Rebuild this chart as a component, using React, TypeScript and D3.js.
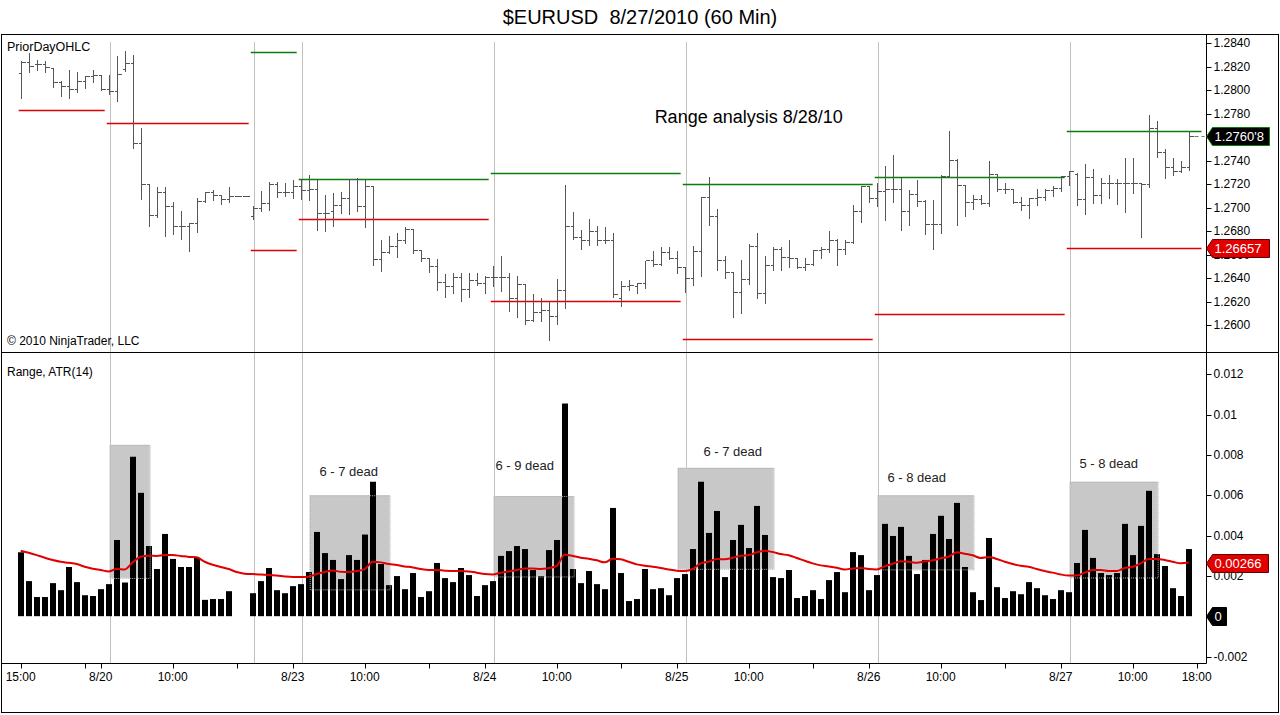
import React from "react";
import * as d3 from "d3";

// hourly EURUSD bars, 8/19 15:00 .. 8/27 17:00
const opens = [
  1.2815, 1.2824, 1.2822, 1.2822, 1.2819, 1.2807, 1.2804, 1.2801, 1.2808, 1.2812,
  1.2813, 1.2801, 1.2799, 1.2818, 1.2823, 1.2755, 1.272, 1.2694, 1.2713, 1.2701,
  1.2684, 1.2684, 1.2687, 1.2706, 1.2713, 1.2711, 1.2707, 1.271, 1.271, 1.2693,
  1.27, 1.2704, 1.272, 1.2713, 1.2713, 1.2718, 1.2715, 1.2716, 1.2695, 1.2697,
  1.2702, 1.2708, 1.2724, 1.2701, 1.2718, 1.2656, 1.2662, 1.2667, 1.2672, 1.2682,
  1.2664, 1.2657, 1.265, 1.2637, 1.2633, 1.2641, 1.2631, 1.2638, 1.2636, 1.2641,
  1.2641, 1.2641, 1.2623, 1.2635, 1.2604, 1.2611, 1.2613, 1.2608, 1.263, 1.2684,
  1.2675, 1.2672, 1.268, 1.2672, 1.2672, 1.2623, 1.2633, 1.2633, 1.2636, 1.2655,
  1.2652, 1.2662, 1.2657, 1.2649, 1.264, 1.2663, 1.2709, 1.2693, 1.2655, 1.2645,
  1.2628, 1.2639, 1.2667, 1.2627, 1.2651, 1.2665, 1.2658, 1.2657, 1.2649, 1.2652,
  1.2664, 1.2665, 1.2672, 1.2665, 1.2671, 1.2697, 1.2718, 1.2708, 1.2714, 1.2716,
  1.2716, 1.2697, 1.2712, 1.2706, 1.2686, 1.2686, 1.2727, 1.2741, 1.2719, 1.2705,
  1.2707, 1.2704, 1.2729, 1.2716, 1.2716, 1.2705, 1.2702, 1.2708, 1.2709, 1.2715,
  1.2717, 1.2727, 1.2729, 1.2707, 1.2726, 1.2711, 1.2721, 1.2721, 1.2721, 1.2721,
  1.2721, 1.272, 1.2768, 1.2747, 1.2735, 1.2731, 1.2735,
];
const highs = [
  1.2826, 1.2833, 1.2827, 1.2826, 1.282, 1.2809, 1.2818, 1.2816, 1.2813, 1.2818,
  1.2814, 1.2814, 1.283, 1.2834, 1.2831, 1.2769, 1.272, 1.2718, 1.2718, 1.2706,
  1.2698, 1.2688, 1.2709, 1.2714, 1.2716, 1.2712, 1.2718, 1.271, 1.271, 1.2702,
  1.2715, 1.2723, 1.2723, 1.2722, 1.2724, 1.2724, 1.2729, 1.2724, 1.2712, 1.2713,
  1.2714, 1.2725, 1.2726, 1.2724, 1.2719, 1.2673, 1.2677, 1.2679, 1.2684, 1.2683,
  1.2665, 1.2658, 1.2657, 1.2644, 1.2645, 1.2645, 1.2645, 1.2645, 1.2643, 1.2651,
  1.266, 1.2645, 1.2643, 1.2635, 1.2627, 1.2624, 1.2621, 1.264, 1.272, 1.2697,
  1.2682, 1.2691, 1.2685, 1.2684, 1.2679, 1.2638, 1.2639, 1.2637, 1.2655, 1.2664,
  1.2667, 1.2667, 1.2664, 1.265, 1.2668, 1.271, 1.2727, 1.27, 1.266, 1.2646,
  1.2656, 1.267, 1.2679, 1.266, 1.2667, 1.2667, 1.2673, 1.2658, 1.2658, 1.2665,
  1.2667, 1.2681, 1.2674, 1.2673, 1.2703, 1.2719, 1.2719, 1.2722, 1.2736, 1.2746,
  1.2726, 1.2716, 1.2724, 1.2707, 1.2707, 1.2729, 1.2766, 1.2742, 1.2719, 1.2712,
  1.2712, 1.2741, 1.2729, 1.2722, 1.2717, 1.271, 1.2709, 1.2717, 1.2717, 1.2719,
  1.2728, 1.2732, 1.273, 1.2738, 1.2734, 1.2726, 1.2729, 1.2725, 1.2743, 1.2743,
  1.2721, 1.278, 1.2775, 1.2751, 1.2743, 1.2741, 1.2766,
];
const lows = [
  1.2794, 1.2816, 1.2818, 1.2816, 1.2804, 1.2796, 1.2794, 1.2799, 1.2803, 1.2808,
  1.2801, 1.2798, 1.2792, 1.2817, 1.2752, 1.2708, 1.2685, 1.2693, 1.2677, 1.2678,
  1.2674, 1.2664, 1.268, 1.2706, 1.2707, 1.2704, 1.2706, 1.271, 1.271, 1.2691,
  1.2698, 1.2699, 1.271, 1.2711, 1.2709, 1.2708, 1.2707, 1.2682, 1.2681, 1.2685,
  1.2696, 1.2695, 1.2698, 1.2684, 1.2652, 1.2647, 1.2662, 1.2659, 1.2671, 1.2662,
  1.2655, 1.2646, 1.2631, 1.2625, 1.2628, 1.2621, 1.2625, 1.2635, 1.2628, 1.2634,
  1.263, 1.2613, 1.2608, 1.2602, 1.2604, 1.2604, 1.2588, 1.2602, 1.2615, 1.2674,
  1.2666, 1.2669, 1.2669, 1.2671, 1.2625, 1.2617, 1.2631, 1.2628, 1.2632, 1.2651,
  1.2652, 1.2657, 1.2645, 1.2629, 1.2635, 1.2643, 1.2686, 1.2648, 1.2641, 1.2608,
  1.2611, 1.2636, 1.2624, 1.262, 1.2648, 1.2648, 1.265, 1.2649, 1.2648, 1.2652,
  1.2658, 1.2663, 1.2652, 1.2661, 1.2671, 1.2689, 1.2706, 1.2702, 1.269, 1.2706,
  1.2682, 1.2686, 1.2702, 1.2678, 1.2666, 1.2679, 1.2727, 1.2686, 1.2694, 1.27,
  1.2704, 1.2702, 1.2715, 1.2713, 1.2705, 1.2699, 1.2692, 1.2703, 1.2707, 1.2711,
  1.2715, 1.272, 1.2703, 1.2695, 1.2705, 1.2705, 1.2709, 1.2704, 1.2697, 1.2713,
  1.2676, 1.2718, 1.2744, 1.2726, 1.2729, 1.2731, 1.2733,
];
const closes = [
  1.2824, 1.2821, 1.2822, 1.282, 1.2807, 1.2804, 1.2801, 1.2808, 1.2812, 1.2813,
  1.2801, 1.2799, 1.2814, 1.2823, 1.2755, 1.272, 1.2694, 1.2713, 1.2701, 1.2684,
  1.2684, 1.2687, 1.2706, 1.2713, 1.2711, 1.2707, 1.271, 1.271, 1.271, 1.27,
  1.2704, 1.272, 1.2713, 1.2713, 1.2718, 1.2715, 1.2716, 1.2695, 1.2695, 1.2702,
  1.2708, 1.2724, 1.2701, 1.2718, 1.2656, 1.2662, 1.2667, 1.2672, 1.2682, 1.2664,
  1.2657, 1.265, 1.2637, 1.2633, 1.2641, 1.2631, 1.2638, 1.2636, 1.2641, 1.2641,
  1.2641, 1.2623, 1.2635, 1.2604, 1.2611, 1.2613, 1.2608, 1.263, 1.2684, 1.2675,
  1.2672, 1.268, 1.2672, 1.2672, 1.2626, 1.2633, 1.2634, 1.2636, 1.2655, 1.2652,
  1.2662, 1.2657, 1.2649, 1.264, 1.2663, 1.2709, 1.2693, 1.2655, 1.2645, 1.2628,
  1.2639, 1.2667, 1.2627, 1.2651, 1.2665, 1.2658, 1.2657, 1.2649, 1.2652, 1.2664,
  1.2665, 1.2672, 1.2665, 1.2671, 1.2697, 1.2718, 1.2708, 1.2714, 1.2716, 1.2716,
  1.2697, 1.2712, 1.2706, 1.2686, 1.2686, 1.2727, 1.2741, 1.2719, 1.2705, 1.2707,
  1.2704, 1.2729, 1.2716, 1.2716, 1.2705, 1.2702, 1.2708, 1.2709, 1.2715, 1.2717,
  1.2727, 1.2731, 1.2707, 1.2726, 1.2711, 1.2721, 1.2721, 1.2721, 1.2721, 1.2721,
  1.272, 1.2768, 1.2747, 1.2735, 1.2731, 1.2735, 1.27608,
];

// Range panel
const ranges = [
  0.00317, 0.00174, 0.00095, 0.00095, 0.00164, 0.00129, 0.00244, 0.00169, 0.00104, 0.001,
  0.00134, 0.00159, 0.00378, 0.00167, 0.00791, 0.00612, 0.00348, 0.00234, 0.00408, 0.00284,
  0.00244, 0.00244, 0.00289, 0.00081, 0.00085, 0.00085, 0.00124, 0, 0, 0.00114,
  0.00174, 0.00239, 0.00129, 0.00114, 0.00149, 0.00159, 0.00219, 0.00418, 0.00313, 0.00279,
  0.00184, 0.00303, 0.00279, 0.00405, 0.00667, 0.00259, 0.00154, 0.00199, 0.00134, 0.00214,
  0.00095, 0.00124, 0.00264, 0.00189, 0.00169, 0.00239, 0.00204, 0.001, 0.00154, 0.00174,
  0.00299, 0.00323, 0.00348, 0.00333, 0.00229, 0.00199, 0.00328, 0.00378, 0.01055, 0.00234,
  0.00164, 0.00224, 0.00159, 0.00134, 0.00537, 0.00214, 0.00075, 0.00085, 0.00234, 0.00134,
  0.00139, 0.00104, 0.00189, 0.00209, 0.00333, 0.00667, 0.00413, 0.00522, 0.00194, 0.00378,
  0.00453, 0.00338, 0.00547, 0.00403, 0.00194, 0.00189, 0.00229, 0.0009, 0.001, 0.00129,
  0.00085, 0.00179, 0.00219, 0.00119, 0.00318, 0.00303, 0.00129, 0.00204, 0.00458, 0.00398,
  0.00443, 0.00299, 0.00209, 0.00279, 0.00408, 0.00498, 0.00383, 0.00562, 0.00244, 0.00119,
  0.0008, 0.00388, 0.00144, 0.0009, 0.00124, 0.00109, 0.00169, 0.00139, 0.00104, 0.00085,
  0.00129, 0.00119, 0.00264, 0.00428, 0.00289, 0.00214, 0.00204, 0.00214, 0.00458, 0.00303,
  0.00448, 0.00622, 0.00308, 0.00249, 0.00139, 0.001, 0.00333,
];
const atr = [
  0.00325, 0.00315, 0.00303, 0.0029, 0.00279, 0.0027, 0.00265, 0.00259, 0.00245, 0.00235,
  0.00229, 0.00222, 0.00234, 0.00232, 0.00267, 0.00295, 0.003, 0.00299, 0.00303, 0.00303,
  0.00299, 0.00294, 0.00292, 0.0027, 0.00255, 0.00244, 0.00234, 0.00219, 0.00211, 0.00209,
  0.00207, 0.00204, 0.00202, 0.00197, 0.00194, 0.00194, 0.00196, 0.00209, 0.00219, 0.00227,
  0.0022, 0.00219, 0.00224, 0.00234, 0.0027, 0.00267, 0.00259, 0.00254, 0.00247, 0.00242,
  0.00234, 0.00229, 0.00229, 0.00226, 0.00224, 0.00224, 0.00222, 0.00216, 0.00209, 0.00207,
  0.00216, 0.00222, 0.00229, 0.00237, 0.00237, 0.00234, 0.00239, 0.0025, 0.00305, 0.00299,
  0.0029, 0.00285, 0.00277, 0.00267, 0.00285, 0.00282, 0.0027, 0.00257, 0.0025, 0.00245,
  0.00239, 0.00232, 0.00226, 0.00224, 0.00234, 0.00262, 0.0027, 0.00284, 0.00282, 0.0029,
  0.003, 0.00303, 0.00317, 0.00325, 0.00318, 0.00308, 0.00302, 0.00289, 0.00275, 0.00262,
  0.00252, 0.00247, 0.0024, 0.00232, 0.00237, 0.00239, 0.00234, 0.00232, 0.00247, 0.0026,
  0.00272, 0.0027, 0.00265, 0.00272, 0.00277, 0.00287, 0.00295, 0.00317, 0.0031, 0.00302,
  0.00289, 0.00294, 0.00284, 0.0027, 0.00259, 0.0025, 0.00245, 0.00234, 0.00224, 0.00216,
  0.00207, 0.00202, 0.00202, 0.00216, 0.00229, 0.00229, 0.00224, 0.00224, 0.00239, 0.00245,
  0.00262, 0.00284, 0.00284, 0.00279, 0.0027, 0.00262, 0.00266,
];

// PriorDayOHLC per session (bar index where each session starts)
const sessionStarts = [0, 11, 29, 35, 59, 83, 107, 131];
const priorHighs = [null, null, 1.28328, 1.27241, 1.27292, 1.27201, 1.27265, 1.27655];
const priorLows = [1.27831, 1.27718, 1.26639, 1.269, 1.26207, 1.25877, 1.2609, 1.26657];
const sessionLines = [11, 29, 35, 59, 83, 107, 131];

// x axis
const xTickIdx = [0, 8, 10, 19, 27, 34, 43, 51, 58, 67, 75, 82, 91, 99, 106, 115, 123, 130, 139, 147];
const xTickLabels = [
  "15:00", "", "8/20", "10:00", "", "8/23", "10:00", "", "8/24", "10:00", "",
  "8/25", "10:00", "", "8/26", "10:00", "", "8/27", "10:00", "18:00",
];
const priceTicks = [1.26, 1.262, 1.264, 1.266, 1.268, 1.27, 1.272, 1.274, 1.276, 1.278, 1.28, 1.282, 1.284];
const rangeTicks = [-0.002, 0, 0.002, 0.004, 0.006, 0.008, 0.01, 0.012];

// shaded "dead" zones on the range panel
const boxFrom = [11, 36, 59, 82, 107, 131];
const boxTo = [16, 46, 69, 94, 119, 142];
const boxTop = [0.0085, 0.006, 0.00596, 0.00736, 0.006, 0.00667];
const boxBottom = [0.0019, 0.00133, 0.00197, 0.00235, 0.00232, 0.00192];
const noteText = ["6 - 7 dead", "6 - 9 dead", "6 - 7 dead", "6 - 8 dead", "5 - 8 dead"];
const noteIdx = [41, 63, 89, 112, 136];
const noteVal = [0.0072, 0.0075, 0.00815, 0.00686, 0.00755];

const FONT = "Arial, 'Liberation Sans', sans-serif";
const axisX = 1206.5;
const GREEN = "#0c7c0c";
const RED = "#dd0000";

const Tag = ({ y, w, fill, stroke, text }) => (
  <g>
    <polygon
      points={`${axisX},${y} ${axisX + 6},${y - 9} ${axisX + w},${y - 9} ${axisX + w},${y + 9} ${axisX + 6},${y + 9}`}
      fill={fill}
      stroke={stroke}
    />
    <text x={axisX + 8} y={y} dominantBaseline="central" fill="#fff" fontSize={13} fontFamily={FONT}>
      {text}
    </text>
  </g>
);

const App: React.FC = () => {
  const n = closes.length;
  const x = d3.scaleLinear().domain([0, n - 1]).range([20.7, 20.7 + 8 * (n - 1)]);
  const yP = d3.scaleLinear().domain([1.26, 1.284]).range([325, 43.3]);
  const yR = d3.scaleLinear().domain([-0.002, 0.012]).range([656.5, 374.3]);
  const px = (i: number) => Math.round(x(i)) + 0.5;
  const py = (v: number) => Math.round(yP(v)) + 0.5;

  const atrLine = d3
    .line<number>()
    .x((d, i) => x(i))
    .y((d) => yR(d))
    .curve(d3.curveMonotoneX);

  const lastIdx = n - 1;
  // labels sitting under a value tag are hidden, as in the original
  const hiddenPrice = [1.276];

  return (
    <div style={{ position: "absolute", left: 0, top: 0, background: "#fff" }}>
      <svg width={1280} height={715} style={{ display: "block" }}>
        <rect x={0} y={0} width={1280} height={715} fill="#fff" />
        <text
          x={640}
          y={17}
          textAnchor="middle"
          dominantBaseline="central"
          fontSize={20}
          fontFamily={FONT}
          style={{ whiteSpace: "pre" }}
        >
          {"$EURUSD  8/27/2010 (60 Min)"}
        </text>

        {/* session gridlines */}
        {sessionLines.map((i) => (
          <line key={"g" + i} x1={px(i) + 1} x2={px(i) + 1} y1={42} y2={663} stroke="#c0c0c0" />
        ))}

        {/* prior day high / low */}
        {sessionStarts.map((s, k) => {
          const x1 = x(s) - 2;
          const x2 = k < sessionStarts.length - 1 ? x(sessionStarts[k + 1]) - 4 : x(147.6);
          return (
            <g key={"pd" + k} strokeWidth={1.5}>
              {priorHighs[k] != null && (
                <line x1={x1} x2={x2} y1={py(priorHighs[k])} y2={py(priorHighs[k])} stroke={GREEN} />
              )}
              <line x1={x1} x2={x2} y1={py(priorLows[k])} y2={py(priorLows[k])} stroke={RED} />
            </g>
          );
        })}

        {/* OHLC bars */}
        {closes.map((c, i) => {
          const cx = px(i);
          return (
            <g key={"b" + i} stroke="#555" shapeRendering="crispEdges">
              {highs[i] > lows[i] && <line x1={cx} x2={cx} y1={py(highs[i])} y2={py(lows[i]) + 1} />}
              <line x1={cx - 3} x2={cx} y1={py(opens[i])} y2={py(opens[i])} />
              <line x1={cx} x2={cx + 4} y1={py(c)} y2={py(c)} />
            </g>
          );
        })}
        <line
          x1={px(lastIdx) + 5}
          x2={axisX - 2}
          y1={py(closes[lastIdx])}
          y2={py(closes[lastIdx])}
          stroke="#777"
          strokeDasharray="4,3"
        />

        <text x={x(91)} y={yP(1.2777)} textAnchor="middle" dominantBaseline="central" fontSize={18} fontFamily={FONT}>
          Range analysis 8/28/10
        </text>
        <text x={7} y={47} dominantBaseline="central" fontSize={12.5} fontFamily={FONT}>
          PriorDayOHLC
        </text>
        <text x={7} y={341} dominantBaseline="central" fontSize={12} fontFamily={FONT}>
          © 2010 NinjaTrader, LLC
        </text>
        <text x={7} y={372} dominantBaseline="central" fontSize={12} fontFamily={FONT}>
          Range, ATR(14)
        </text>

        {/* shaded zones */}
        {boxFrom.map((f, k) => (
          <rect
            key={"bx" + k}
            x={x(f) + 1}
            y={yR(boxTop[k])}
            width={x(boxTo[k]) - x(f)}
            height={yR(boxBottom[k]) - yR(boxTop[k])}
            fill="#c8c8c8"
          />
        ))}

        {/* range bars */}
        {ranges.map((r, i) => (
          <rect
            key={"r" + i}
            x={Math.round(x(i)) - 3}
            y={yR(r)}
            width={6}
            height={yR(0) - yR(r)}
            fill="#000"
          />
        ))}

        {boxFrom.map((f, k) => (
          <rect
            key={"bb" + k}
            x={x(f) + 1.5}
            y={yR(boxTop[k]) + 0.5}
            width={x(boxTo[k]) - x(f)}
            height={yR(boxBottom[k]) - yR(boxTop[k])}
            fill="none"
            stroke="#b0b0b0"
            strokeDasharray="1,1"
          />
        ))}
        {noteText.map((t, k) => (
          <text
            key={"nt" + k}
            x={x(noteIdx[k])}
            y={yR(noteVal[k])}
            textAnchor="middle"
            dominantBaseline="central"
            fontSize={13}
            fontFamily={FONT}
            fill="#222"
          >
            {t}
          </text>
        ))}

        <path d={atrLine(atr) || ""} fill="none" stroke="#e00000" strokeWidth={2} />

        {/* frame & axes */}
        <rect x={1.5} y={34.5} width={1277} height={678} fill="none" stroke="#000" />
        <line x1={1.5} x2={1278.5} y1={352.5} y2={352.5} stroke="#000" />
        <line x1={axisX} x2={axisX} y1={34.5} y2={663.5} stroke="#000" />
        <line x1={1.5} x2={axisX} y1={663.5} y2={663.5} stroke="#000" />

        {priceTicks.map((t) => (
          <g key={"pt" + t}>
            <line x1={axisX} x2={axisX + 5} y1={py(t)} y2={py(t)} stroke="#000" />
            {!hiddenPrice.includes(t) && (
              <text x={axisX + 7} y={yP(t)} dominantBaseline="central" fontSize={12} fontFamily={FONT}>
                {d3.format(".4f")(t)}
              </text>
            )}
          </g>
        ))}
        {rangeTicks.map((t) => (
          <g key={"rt" + t}>
            <line x1={axisX} x2={axisX + 5} y1={Math.round(yR(t)) + 0.5} y2={Math.round(yR(t)) + 0.5} stroke="#000" />
            {t !== 0 && (
              <text x={axisX + 7} y={yR(t)} dominantBaseline="central" fontSize={12} fontFamily={FONT}>
                {String(+t.toFixed(3))}
              </text>
            )}
          </g>
        ))}
        {xTickIdx.map((i, k) => (
          <g key={"xt" + k}>
            <line x1={px(i)} x2={px(i)} y1={663.5} y2={668.5} stroke="#000" />
            {xTickLabels[k] && (
              <text x={x(i)} y={677} textAnchor="middle" dominantBaseline="central" fontSize={12} fontFamily={FONT}>
                {xTickLabels[k]}
              </text>
            )}
          </g>
        ))}

        {/* value tags */}
        <Tag y={py(closes[lastIdx])} w={63} fill="#000" stroke={GREEN} text="1.2760'8" />
        <Tag y={py(priorLows[7])} w={63} fill="#e00000" stroke="#600" text={d3.format(".5f")(priorLows[7])} />
        <Tag y={Math.round(yR(atr[lastIdx])) + 0.5} w={62} fill="#e00000" stroke="#600" text={d3.format(".5f")(atr[lastIdx])} />
        <Tag y={Math.round(yR(0)) + 0.5} w={20} fill="#000" stroke="#000" text="0" />
      </svg>
    </div>
  );
};

export default App;
